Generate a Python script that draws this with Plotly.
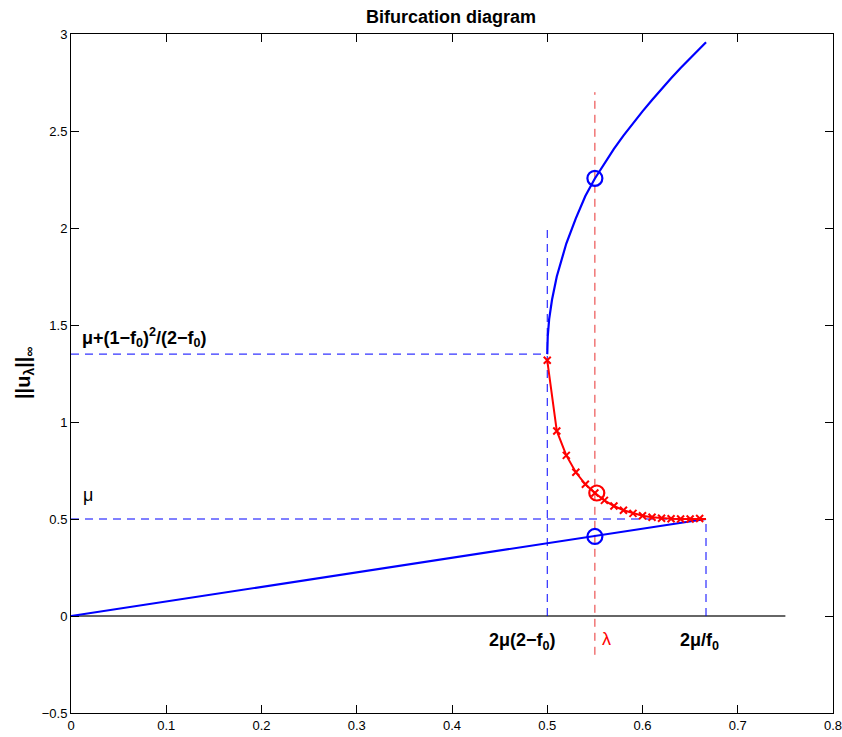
import plotly.graph_objects as go

# ---- data ----
mu = 0.5
x_lo = 0.5          # 2mu(2-f0)
x_hi = 2/3          # 2mu/f0
y_turn = 1.35       # mu+(1-f0)^2/(2-f0)
lam = 0.55

lower_x = [0.0, 2/3]
lower_y = [0.0, 0.5]

upper_x = [0.5, 0.5005, 0.502, 0.505, 0.51, 0.52, 0.53, 0.54, 0.55, 0.56, 0.57, 0.58, 0.59, 0.60,
           0.61, 0.62, 0.63, 0.64, 0.65, 0.6667]
upper_y = [1.35, 1.44, 1.53, 1.63, 1.75, 1.92, 2.05, 2.165, 2.255, 2.335, 2.408, 2.476, 2.54, 2.601,
           2.66, 2.717, 2.772, 2.825, 2.876, 2.958]

mid_x = [0.50, 0.51, 0.52, 0.53, 0.54, 0.55, 0.56, 0.57, 0.58, 0.59, 0.60, 0.61, 0.62, 0.63, 0.64, 0.65, 0.66]
mid_y = [1.318, 0.954, 0.828, 0.741, 0.679, 0.634, 0.596, 0.567, 0.545, 0.529, 0.517, 0.509, 0.504, 0.501, 0.500, 0.500, 0.503]

circ_blue_x = [0.55, 0.55]
circ_blue_y = [2.256, 0.41]
circ_red_x = [0.552]
circ_red_y = [0.634]

x_ticks = [0, 0.1, 0.2, 0.3, 0.4, 0.5, 0.6, 0.7, 0.8]
x_tick_labels = ["0", "0.1", "0.2", "0.3", "0.4", "0.5", "0.6", "0.7", "0.8"]
y_ticks = [-0.5, 0, 0.5, 1, 1.5, 2, 2.5, 3]
y_tick_labels = ["\u22120.5", "0", "0.5", "1", "1.5", "2", "2.5", "3"]

FONT = "Liberation Sans Narrow, Liberation Sans, Arial, sans-serif"
BLUE = "#0000ff"
RED = "#ff0000"

fig = go.Figure()

# black x-axis line
fig.add_trace(go.Scatter(x=[0, 0.75], y=[0, 0], mode="lines",
                         line=dict(color="#333333", width=1.5)))
# blue dashed guide lines
fig.add_trace(go.Scatter(x=[0, x_lo], y=[y_turn, y_turn], mode="lines",
                         line=dict(color=BLUE, width=1, dash="8px,6px")))
fig.add_trace(go.Scatter(x=[0, x_hi], y=[mu, mu], mode="lines",
                         line=dict(color=BLUE, width=1, dash="8px,6px")))
fig.add_trace(go.Scatter(x=[x_lo, x_lo], y=[0, 2.0], mode="lines",
                         line=dict(color=BLUE, width=1, dash="8px,6px")))
fig.add_trace(go.Scatter(x=[x_hi, x_hi], y=[0, mu], mode="lines",
                         line=dict(color=BLUE, width=1, dash="8px,6px")))
# red dashed lambda line
fig.add_trace(go.Scatter(x=[lam, lam], y=[-0.2, 2.7], mode="lines",
                         line=dict(color="#e83030", width=1, dash="8px,6px")))

# solution branches
fig.add_trace(go.Scatter(x=lower_x, y=lower_y, mode="lines",
                         line=dict(color=BLUE, width=2.2)))
fig.add_trace(go.Scatter(x=upper_x, y=upper_y, mode="lines",
                         line=dict(color=BLUE, width=2.2)))
fig.add_trace(go.Scatter(x=mid_x + [x_hi], y=mid_y + [mu], mode="lines",
                         line=dict(color=RED, width=2)))
fig.add_trace(go.Scatter(x=mid_x, y=mid_y, mode="markers",
                         marker=dict(symbol="x-thin", size=7, color=RED,
                                     line=dict(color=RED, width=2))))
# circles
fig.add_trace(go.Scatter(x=circ_blue_x, y=circ_blue_y, mode="markers",
                         marker=dict(symbol="circle-open", size=15, color=BLUE,
                                     line=dict(color=BLUE, width=2.2))))
fig.add_trace(go.Scatter(x=circ_red_x, y=circ_red_y, mode="markers",
                         marker=dict(symbol="circle-open", size=15, color=RED,
                                     line=dict(color=RED, width=2.2))))

annots = [
    dict(x=0.009, y=1.36, text="<b>μ+(1−f<sub>0</sub>)<sup>2</sup>/(2−f<sub>0</sub>)</b>",
         xanchor="left", yanchor="bottom", font=dict(size=18, color="black")),
    dict(x=0.01, y=0.56, text="μ", xanchor="left", yanchor="bottom",
         font=dict(size=18, color="black")),
    dict(x=0.474, y=-0.13, text="<b>2μ(2−f<sub>0</sub>)</b>", xanchor="center", yanchor="middle",
         font=dict(size=18, color="black")),
    dict(x=0.562, y=-0.12, text="λ", xanchor="center", yanchor="middle",
         font=dict(size=18, color=RED)),
    dict(x=0.66, y=-0.13, text="<b>2μ/f<sub>0</sub></b>", xanchor="center", yanchor="middle",
         font=dict(size=18, color="black")),
    dict(xref="paper", yref="paper", x=-0.061, y=0.5,
         text="<b>||u<sub>λ</sub>||<sub>∞</sub></b>", textangle=-90,
         xanchor="center", yanchor="middle", font=dict(size=20, color="black")),
]
for a in annots:
    a.setdefault("xref", "x")
    a.setdefault("yref", "y")
    a["showarrow"] = False
fig.update_layout(annotations=annots)

fig.update_layout(
    width=842, height=737,
    margin=dict(l=71, r=9, t=34, b=24, autoexpand=False),
    paper_bgcolor="white", plot_bgcolor="white",
    showlegend=False,
    font=dict(family=FONT, size=13, color="black"),
    title=dict(text="<b>Bifurcation diagram</b>", x=0.5356, xanchor="center",
               y=0.977, yanchor="middle", font=dict(size=18, color="black")),
)
fig.update_xaxes(range=[0, 0.8], tickvals=x_ticks, ticktext=x_tick_labels,
                 showgrid=False, zeroline=False, showline=True, linecolor="black",
                 linewidth=1, mirror="ticks", ticks="inside", ticklen=8,
                 tickcolor="black", tickfont=dict(size=13, family=FONT), automargin=False,
                 ticklabeloverflow="allow")
fig.update_yaxes(range=[-0.5, 3], tickvals=y_ticks, ticktext=y_tick_labels,
                 showgrid=False, zeroline=False, showline=True, linecolor="black",
                 linewidth=1, mirror="ticks", ticks="inside", ticklen=8,
                 tickcolor="black", tickfont=dict(size=13, family=FONT), automargin=False,
                 ticklabeloverflow="allow")

fig.write_html("out.html", config={"displayModeBar": False},
               post_script="document.body.style.margin='0';document.body.style.overflow='hidden';")
